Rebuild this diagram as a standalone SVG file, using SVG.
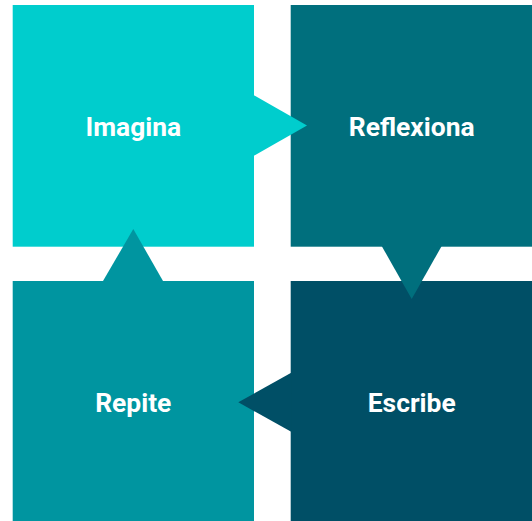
<svg xmlns="http://www.w3.org/2000/svg" width="532" height="521" viewBox="0 0 532 521">
<style>
.lbl{font-family:Roboto,"Liberation Sans",sans-serif;font-weight:700;font-size:26.4px;fill:#ffffff;text-anchor:middle}
</style>
<rect width="532" height="521" fill="#ffffff"/>
<g id="imagina">
<rect x="12.7" y="5" width="241.3" height="241.7" fill="#00CDCD"/>
<text class="lbl" x="133.3" y="136">Imagina</text>
</g>
<g id="reflexiona">
<rect x="290.7" y="5" width="241.3" height="241.7" fill="#006F7D"/>
<text class="lbl" x="411.7" y="136">Reflexiona</text>
</g>
<g id="escribe">
<rect x="290.7" y="281" width="241.3" height="240" fill="#004F66"/>
<text class="lbl" x="411.7" y="411.5">Escribe</text>
</g>
<g id="repite">
<rect x="12.7" y="281" width="241.3" height="240" fill="#0095A0"/>
<text class="lbl" x="133.3" y="411.5">Repite</text>
</g>
<g id="connectors">
<polygon points="253.5,95 307,125.5 253.5,156" fill="#00CDCD"/>
<polygon points="381.7,246 441.7,246 411.7,299" fill="#006F7D"/>
<polygon points="291.2,372.7 238.3,402.3 291.2,431.7" fill="#004F66"/>
<polygon points="102.7,281.5 133.3,229 163.3,281.5" fill="#0095A0"/>
</g>
</svg>
